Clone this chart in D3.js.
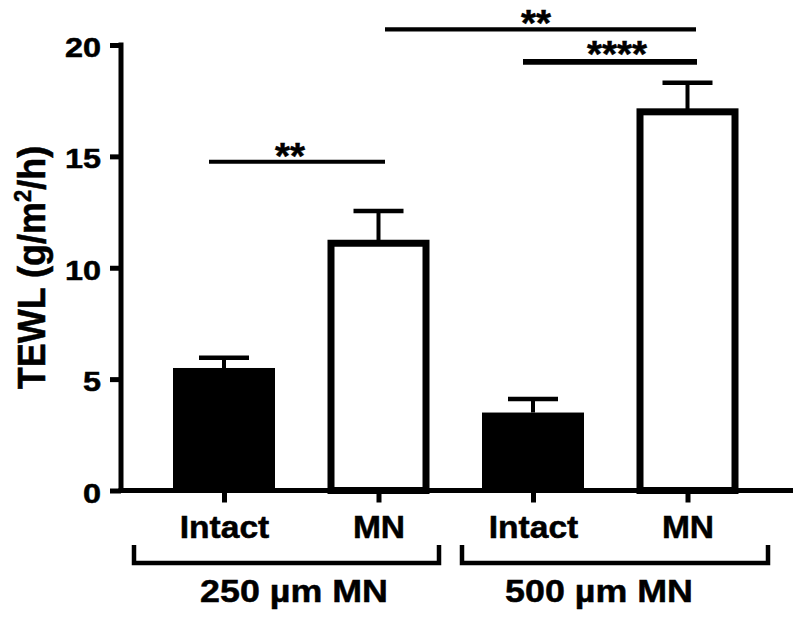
<!DOCTYPE html>
<html>
<head>
<meta charset="utf-8">
<script src="https://cdn.jsdelivr.net/npm/d3@7"></script>
<style>
  html, body { margin: 0; padding: 0; background: #fff; }
  svg { display: block; }
  text { font-family: "Liberation Sans", Arial, Helvetica, sans-serif; font-weight: bold; fill: #000; stroke: #000; stroke-width: 0.5px; }
</style>
</head>
<body>
<svg id="chart" width="800" height="617"></svg>
<script>
// ---- data ----
const categories = ["Intact", "MN", "Intact", "MN"];
const groups = ["250 \u00B5m MN", "500 \u00B5m MN"];
const means = [5.5, 11.1, 3.5, 17.0];
const sems = [0.46, 1.45, 0.61, 1.3];
const filled = [true, false, true, false];
const yTicks = [0, 5, 10, 15, 20];
const sigFrom = [0, 1, 2];
const sigTo = [1, 3, 3];
const sigLevel = [14.76, 20.7, 19.24];
const sigLabel = ["**", "**", "****"];

// ---- layout ----
const svg = d3.select("#chart");
const y = d3.scaleLinear().domain([0, 20]).range([490.5, 45]);
const idx = categories.map((c, i) => i);
const x = d3.scalePoint().domain(idx).range([224, 687.5]);
const barW = 102;

// bars
idx.forEach(i => {
  const cx = x(i);
  if (filled[i]) {
    svg.append("rect")
      .attr("x", cx - barW / 2).attr("width", barW)
      .attr("y", y(means[i])).attr("height", y(0) - y(means[i]))
      .attr("fill", "#000");
  } else {
    const sw = 7;
    svg.append("rect")
      .attr("x", cx - barW / 2 + sw / 2).attr("width", barW - sw)
      .attr("y", y(means[i])).attr("height", y(0) - y(means[i]))
      .attr("fill", "#fff").attr("stroke", "#000").attr("stroke-width", sw);
  }
  // error bar (upper only)
  svg.append("line")
    .attr("x1", cx).attr("x2", cx)
    .attr("y1", y(means[i])).attr("y2", y(means[i] + sems[i]))
    .attr("stroke", "#000").attr("stroke-width", 4);
  svg.append("line")
    .attr("x1", cx - 25).attr("x2", cx + 25)
    .attr("y1", y(means[i] + sems[i])).attr("y2", y(means[i] + sems[i]))
    .attr("stroke", "#000").attr("stroke-width", 4.5);
});

// y axis
const yAxis = svg.append("g").attr("transform", "translate(121,0)")
  .call(d3.axisLeft(y).tickValues(yTicks).tickSize(11).tickSizeOuter(0).tickPadding(6));
yAxis.select(".domain").remove();
yAxis.selectAll(".tick line").attr("stroke", "#000").attr("stroke-width", 5).attr("x1", 0);
yAxis.selectAll(".tick text")
  .attr("font-size", 27).attr("font-family", null)
  .attr("x", null).attr("dy", null)
  .attr("text-anchor", "end")
  .attr("transform", "translate(-20,11.5) scale(1.2,1)");
svg.append("line").attr("x1", 121).attr("x2", 121)
  .attr("y1", 42.5).attr("y2", 493)
  .attr("stroke", "#000").attr("stroke-width", 5);

// x axis
const xAxis = svg.append("g").attr("transform", `translate(0,${y(0)})`)
  .call(d3.axisBottom(x).tickSize(12).tickSizeOuter(0).tickFormat(i => categories[i]));
xAxis.select(".domain").remove();
xAxis.selectAll(".tick line").attr("stroke", "#000").attr("stroke-width", 5);
xAxis.selectAll(".tick text")
  .attr("font-size", 30.5).attr("font-family", null)
  .attr("y", null).attr("dy", null)
  .attr("text-anchor", "middle")
  .attr("transform", "translate(0,47.5) scale(1.1,1)");
svg.append("line").attr("x1", 118.5).attr("x2", 793)
  .attr("y1", y(0)).attr("y2", y(0))
  .attr("stroke", "#000").attr("stroke-width", 5);

// y title
const yt = svg.append("text")
  .attr("transform", "translate(45,267.5) scale(1.09,1) rotate(-90)")
  .attr("text-anchor", "middle").attr("font-size", 36);
yt.append("tspan").text("TEWL (g/m");
yt.append("tspan").text("2").attr("font-size", 22).attr("dy", -13);
yt.append("tspan").text("/h)").attr("dy", 13);

// group brackets
const bracketSpan = [[x(0) - 90, x(1) + 60.5], [x(2) - 71, x(3) + 80.5]];
const groupLabelX = [294, 599];
groups.forEach((g, k) => {
  const [a, b] = bracketSpan[k];
  svg.append("path")
    .attr("d", `M${a},545 L${a},563 L${b},563 L${b},545`)
    .attr("fill", "none").attr("stroke", "#000").attr("stroke-width", 4.5)
    .attr("stroke-linejoin", "miter");
  svg.append("text")
    .attr("transform", `translate(${groupLabelX[k]},602) scale(1.12,1)`)
    .attr("text-anchor", "middle").attr("font-size", 32)
    .text(g);
});

// significance annotations
const sigOffsets = [[-15, 6.5], [6.5, 8.5], [-10, 9.5]];
const sigWidth = [4, 4.3, 5.7];
const sigTextX = [290, 536, 617];
const sigTextDy = [7, 7, 5.5];
sigLabel.forEach((lab, k) => {
  const x1 = x(sigFrom[k]) + sigOffsets[k][0];
  const x2 = x(sigTo[k]) + sigOffsets[k][1];
  const ly = y(sigLevel[k]);
  svg.append("line")
    .attr("x1", x1).attr("x2", x2).attr("y1", ly).attr("y2", ly)
    .attr("stroke", "#000").attr("stroke-width", sigWidth[k]);
  svg.append("text")
    .attr("transform", `translate(${sigTextX[k]},${ly + sigTextDy[k]}) scale(1.07,1)`)
    .attr("text-anchor", "middle").attr("font-size", 36)
    .text(lab);
});
</script>
</body>
</html>
